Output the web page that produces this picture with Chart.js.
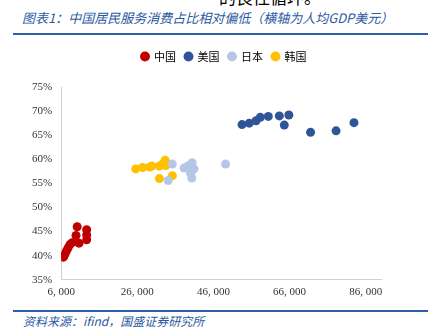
<!DOCTYPE html>
<html>
<head>
<meta charset="utf-8">
<script src="https://cdn.jsdelivr.net/npm/chart.js@4.4.1/dist/chart.umd.min.js"></script>
<style>
  html, body { margin: 0; padding: 0; background: #fff; }
  body { width: 442px; height: 335px; position: relative; overflow: hidden; }
  .lead { position: absolute; left: 219px; top: -16px; font: 17px "Noto Sans CJK SC", serif; color: #000; white-space: nowrap; }
  .title { position: absolute; left: 22px; top: 8px; font: italic 13px "Noto Sans CJK SC", sans-serif; color: #2B5AA0; white-space: nowrap; }
  .rule { position: absolute; left: 13px; width: 415px; height: 2px; background: #2E5FA8; }
  .source { position: absolute; left: 23px; top: 312px; font: italic 12px "Noto Sans CJK SC", sans-serif; color: #2B5AA0; white-space: nowrap; }
  #wrap { position: absolute; left: 0; top: 35px; width: 442px; height: 270px; }
</style>
</head>
<body>
<div class="lead">的良性循环。</div>
<div class="title">图表1：中国居民服务消费占比相对偏低（横轴为人均GDP美元）</div>
<div class="rule" style="top:33px"></div>
<div id="wrap"><canvas id="chart"></canvas></div>
<div class="rule" style="top:310px"></div>
<div class="source">资料来源：ifind，国盛证券研究所</div>

<script>
// 人均GDP（美元）与服务消费占比（%）
const chinaX = [6600, 7000, 7400, 7800, 8300, 8900, 10700, 9900, 10200, 12700, 12700, 12700];
const chinaY = [39.7, 40.3, 41.0, 41.6, 42.3, 42.7, 42.6, 44.2, 46.0, 45.4, 44.3, 43.3];

const usX = [53500, 55400, 57200, 58300, 60400, 63300, 65800, 64600, 71500, 78200, 82900];
const usY = [67.2, 67.5, 68.0, 68.7, 68.9, 69.0, 69.2, 67.1, 65.6, 65.9, 67.6];

const japanX = [35200, 34100, 38300, 39300, 40400, 40900, 40000, 40300, 49200, 39800];
const japanY = [59.0, 55.6, 58.2, 58.6, 59.3, 58.0, 57.1, 56.1, 59.0, 58.3];

const koreaX = [25600, 27400, 29300, 29800, 31800, 32600, 33300, 33500, 31800, 35200];
const koreaY = [58.0, 58.3, 58.4, 58.6, 58.6, 59.0, 59.8, 58.7, 56.0, 56.6];

const xTicks = [6000, 26000, 46000, 66000, 86000];
const yTicks = [35, 40, 45, 50, 55, 60, 65, 70, 75];

const toPoints = (xs, ys) => xs.map((x, i) => ({ x, y: ys[i] }));
const fmtNum = v => String(v).replace(/\B(?=(\d{3})+(?!\d))/g, ', ');

function series(label, xs, ys, color) {
  return {
    label,
    data: toPoints(xs, ys),
    backgroundColor: color,
    borderColor: color,
    borderWidth: 0,
    pointRadius: 4.5,
    pointHoverRadius: 4.5
  };
}

// legend: extra gap below it, and centred on the page rather than the plot box
const legendTweak = {
  id: 'legendTweak',
  beforeInit(chart) {
    const fit = chart.legend.fit;
    chart.legend.fit = function () {
      fit.bind(chart.legend)();
      this.height += 15;
    };
  },
  afterLayout(chart) {
    const lg = chart.legend;
    const shift = 224 - (lg.left + lg.right) / 2;
    lg.left += shift;
    lg.right += shift;
  }
};

const tickFont = { family: '"Liberation Serif", serif', size: 11 };

new Chart(document.getElementById('chart'), {
  type: 'scatter',
  data: {
    datasets: [
      series('中国', chinaX, chinaY, '#C00000'),
      series('美国', usX, usY, '#2F5597'),
      series('日本', japanX, japanY, '#B4C7E7'),
      series('韩国', koreaX, koreaY, '#FFC000')
    ]
  },
  plugins: [legendTweak],
  options: {
    responsive: true,
    maintainAspectRatio: false,
    animation: false,
    layout: { padding: { left: 23, right: 61, top: 7, bottom: 0 } },
    plugins: {
      legend: {
        position: 'top',
        labels: {
          usePointStyle: true,
          pointStyle: 'circle',
          boxWidth: 7,
          boxHeight: 7,
          padding: 9,
          color: '#000',
          font: { family: '"Noto Sans CJK SC", serif', size: 11 }
        }
      },
      tooltip: { enabled: false }
    },
    scales: {
      x: {
        type: 'linear',
        min: 6000,
        max: 90000,
        afterBuildTicks: axis => { axis.ticks = xTicks.map(value => ({ value })); },
        grid: { display: false, drawTicks: false },
        border: { display: true, color: '#D0D0D0', width: 1 },
        ticks: { color: '#333', font: tickFont, padding: 6, maxRotation: 0, callback: v => fmtNum(v) }
      },
      y: {
        min: 35,
        max: 75,
        afterBuildTicks: axis => { axis.ticks = yTicks.map(value => ({ value })); },
        grid: { display: false, drawTicks: false },
        border: { display: true, color: '#D0D0D0', width: 1 },
        ticks: { color: '#333', font: tickFont, padding: 9, callback: v => v + '%' }
      }
    }
  }
});
</script>
</body>
</html>
